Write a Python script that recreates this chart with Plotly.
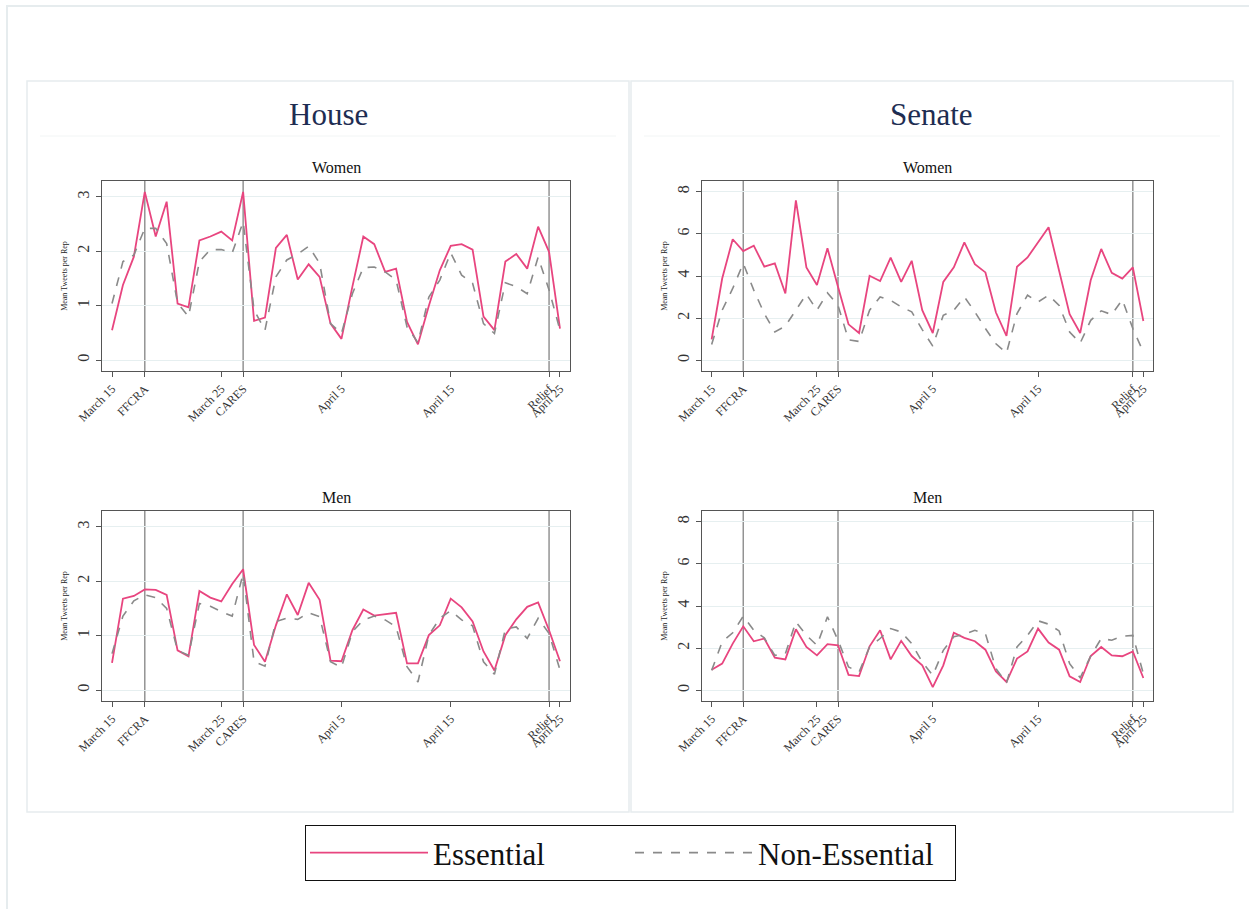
import pandas as pd
import plotly.graph_objects as go

# ---------------- data ----------------
dates = pd.date_range("2020-03-15", "2020-04-25", freq="D")

house_women_ess = [0.55, 1.38, 1.90, 3.09, 2.27, 2.91, 1.04, 0.97, 2.20, 2.27,
                   2.36, 2.20, 3.09, 0.72, 0.78, 2.06, 2.30, 1.48, 1.76, 1.53,
                   0.67, 0.39, 1.35, 2.27, 2.13, 1.62, 1.68, 0.70, 0.29, 1.00,
                   1.65, 2.10, 2.13, 2.03, 0.80, 0.55, 1.81, 1.95, 1.68, 2.45,
                   1.99, 0.58]
house_women_non = [1.04, 1.81, 1.93, 2.42, 2.42, 2.14, 1.05, 0.80, 1.81, 2.03,
                   2.03, 1.97, 2.54, 0.92, 0.55, 1.53, 1.84, 1.95, 2.09, 1.78,
                   0.67, 0.49, 1.22, 1.70, 1.71, 1.62, 1.47, 0.61, 0.32, 1.16,
                   1.47, 1.97, 1.56, 1.41, 0.67, 0.49, 1.42, 1.35, 1.22, 1.89,
                   1.29, 0.55]

senate_women_ess = [1.00, 3.88, 5.74, 5.18, 5.44, 4.44, 4.60, 3.17, 7.58, 4.41,
                    3.57, 5.31, 3.49, 1.71, 1.30, 4.01, 3.76, 4.87, 3.72, 4.72,
                    2.38, 1.30, 3.72, 4.41, 5.59, 4.56, 4.17, 2.27, 1.16, 4.44,
                    4.88, 5.60, 6.31, 4.25, 2.19, 1.30, 3.80, 5.28, 4.15, 3.88,
                    4.41, 1.87]
senate_women_non = [0.76, 2.38, 3.41, 4.60, 3.33, 2.22, 1.35, 1.63, 2.38, 3.14,
                    2.38, 3.20, 2.61, 0.98, 0.90, 2.38, 3.01, 2.85, 2.54, 2.30,
                    1.46, 0.68, 2.14, 2.38, 3.01, 2.30, 1.51, 0.79, 0.35, 2.22,
                    3.09, 2.77, 3.09, 2.61, 1.35, 0.82, 1.90, 2.35, 2.17, 2.88,
                    1.51, 0.40]

house_men_ess = [0.50, 1.68, 1.73, 1.85, 1.84, 1.75, 0.73, 0.62, 1.82, 1.70,
                 1.63, 1.95, 2.22, 0.83, 0.52, 1.19, 1.76, 1.38, 1.97, 1.66,
                 0.54, 0.53, 1.10, 1.48, 1.37, 1.40, 1.42, 0.49, 0.49, 1.01,
                 1.19, 1.68, 1.52, 1.26, 0.71, 0.36, 1.01, 1.30, 1.53, 1.61,
                 1.10, 0.53]
house_men_non = [0.67, 1.36, 1.64, 1.75, 1.70, 1.50, 0.73, 0.64, 1.59, 1.54,
                 1.44, 1.36, 2.14, 0.52, 0.44, 1.26, 1.32, 1.30, 1.42, 1.35,
                 0.52, 0.42, 1.07, 1.29, 1.36, 1.29, 1.16, 0.43, 0.15, 1.01,
                 1.32, 1.46, 1.29, 1.18, 0.52, 0.29, 1.12, 1.16, 0.95, 1.32,
                 1.04, 0.37]

senate_men_ess = [0.98, 1.27, 2.22, 3.04, 2.33, 2.46, 1.55, 1.47, 2.90, 2.06,
                  1.66, 2.19, 2.14, 0.74, 0.68, 2.09, 2.85, 1.47, 2.35, 1.63,
                  1.19, 0.16, 1.19, 2.73, 2.49, 2.33, 1.93, 0.90, 0.40, 1.51,
                  1.85, 2.93, 2.27, 1.93, 0.67, 0.40, 1.63, 2.06, 1.66, 1.62,
                  1.85, 0.59]
senate_men_non = [0.95, 2.30, 2.73, 3.52, 2.85, 2.49, 1.66, 1.74, 3.25, 2.61,
                  2.14, 3.49, 2.38, 1.11, 0.87, 2.06, 2.46, 2.93, 2.77, 2.22,
                  1.35, 0.71, 1.90, 2.54, 2.66, 2.85, 2.69, 1.03, 0.35, 2.06,
                  2.61, 3.30, 3.14, 2.82, 1.27, 0.60, 1.63, 2.46, 2.38, 2.57,
                  2.61, 0.79]

tick_dates = ["2020-03-15", "2020-03-18", "2020-03-25", "2020-03-27",
              "2020-04-05", "2020-04-15", "2020-04-24", "2020-04-25"]
tick_labels = ["March 15", "FFCRA", "March 25", "CARES",
               "April 5", "April 15", "Relief", "April 25"]
event_dates = ["2020-03-18", "2020-03-27", "2020-04-24"]

house_yticks = [0, 1, 2, 3]
senate_yticks = [0, 2, 4, 6, 8]

# ---------------- styling ----------------
W, H = 1249, 909
PINK = "#e8457f"
GRAY = "#8a8a8a"
SERIF = "Liberation Serif, Times New Roman, serif"
AXC = "#555555"


def px(x):
    return x / W


def py(y):
    return 1 - y / H


panels = [
    ("", 102, 570, 181, 371, house_women_ess, house_women_non, house_yticks, [-0.2, 3.29]),
    ("2", 702, 1153, 181, 371, senate_women_ess, senate_women_non, senate_yticks, [-0.5, 8.5]),
    ("3", 102, 570, 511, 701, house_men_ess, house_men_non, house_yticks, [-0.2, 3.29]),
    ("4", 702, 1153, 511, 701, senate_men_ess, senate_men_non, senate_yticks, [-0.5, 8.5]),
]

fig = go.Figure()
layout = {}
shapes = []

for i, (ax, x0, x1, y0, y1, ess, non, yt, yr) in enumerate(panels):
    xa = "x" + ax
    ya = "y" + ax
    fig.add_trace(go.Scatter(x=dates, y=ess, mode="lines", name="Essential",
                             line=dict(color=PINK, width=1.8),
                             xaxis=xa, yaxis=ya, showlegend=(i == 0),
                             legendgroup="ess"))
    fig.add_trace(go.Scatter(x=dates, y=non, mode="lines", name="Non-Essential",
                             line=dict(color=GRAY, width=1.6, dash="dash"),
                             xaxis=xa, yaxis=ya, showlegend=(i == 0),
                             legendgroup="non"))
    layout["xaxis" + ax] = dict(
        domain=[px(x0), px(x1)], anchor=ya, automargin=False,
        range=["2020-03-14 02:00", "2020-04-25 22:00"],
        tickmode="array", tickvals=tick_dates, ticktext=tick_labels,
        tickangle=-45, ticks="outside", ticklen=5, tickcolor=AXC,
        tickfont=dict(family=SERIF, size=12, color="#333333"),
        showgrid=False, zeroline=False,
        showline=True, mirror=True, linecolor=AXC, linewidth=1.3,
    )
    layout["yaxis" + ax] = dict(
        domain=[py(y1), py(y0)], anchor=xa, automargin=False,
        range=yr, tickmode="array", tickvals=yt,
        tickangle=-90, ticks="outside", ticklen=5, tickcolor=AXC,
        tickfont=dict(family=SERIF, size=16, color="#333333"),
        showgrid=True, gridcolor="#e6eff0", gridwidth=1, zeroline=False,
        showline=True, mirror=True, linecolor=AXC, linewidth=1.3,
        title=dict(text="Mean Tweets per Rep", standoff=6,
                   font=dict(family=SERIF, size=8, color="#222222")),
    )
    for d in event_dates:
        shapes.append(dict(type="line", xref=xa, yref=ya + " domain",
                           x0=d, x1=d, y0=0, y1=1,
                           line=dict(color="#8c8c8c", width=1.4), layer="below"))

# background frames
FRAME = "#e6ecee"
shapes += [
    dict(type="rect", xref="paper", yref="paper", x0=px(7), x1=px(1262),
         y0=py(922), y1=py(6), line=dict(color=FRAME, width=2), layer="below"),
    dict(type="rect", xref="paper", yref="paper", x0=px(27), x1=px(629),
         y0=py(812), y1=py(81), line=dict(color=FRAME, width=1.5), layer="below"),
    dict(type="rect", xref="paper", yref="paper", x0=px(631), x1=px(1233),
         y0=py(812), y1=py(81), line=dict(color=FRAME, width=1.5), layer="below"),
    dict(type="line", xref="paper", yref="paper", x0=px(40), x1=px(616),
         y0=py(136), y1=py(136), line=dict(color="#f2f5f5", width=1), layer="below"),
    dict(type="line", xref="paper", yref="paper", x0=px(644), x1=px(1220),
         y0=py(136), y1=py(136), line=dict(color="#f2f5f5", width=1), layer="below"),
]


def label(text, x, y, size, color):
    return dict(text=text, x=px(x), y=py(y), xref="paper", yref="paper",
                xanchor="center", yanchor="middle", showarrow=False,
                font=dict(family=SERIF, size=size, color=color))


annotations = [
    label("House", 328, 115, 31, "#1e2d52"),
    label("Senate", 931, 115, 31, "#1e2d52"),
    label("Women", 336, 167, 16, "#111111"),
    label("Women", 927, 167, 16, "#111111"),
    label("Men", 336, 498, 16, "#111111"),
    label("Men", 927, 498, 16, "#111111"),
]

fig.update_layout(
    width=W, height=H,
    margin=dict(l=0, r=0, t=0, b=0, autoexpand=False),
    paper_bgcolor="white", plot_bgcolor="white",
    shapes=shapes, annotations=annotations,
    legend=dict(orientation="h", x=px(305), xanchor="left",
                y=py(825), yanchor="top",
                bordercolor="#111111", borderwidth=1, bgcolor="white",
                font=dict(family=SERIF, size=31, color="#111111"),
                itemwidth=118, entrywidth=192, tracegroupgap=0),
    **layout,
)

fig.write_html("out.html",
               config={"displayModeBar": False},
               post_script="document.body.style.margin='0px';")
